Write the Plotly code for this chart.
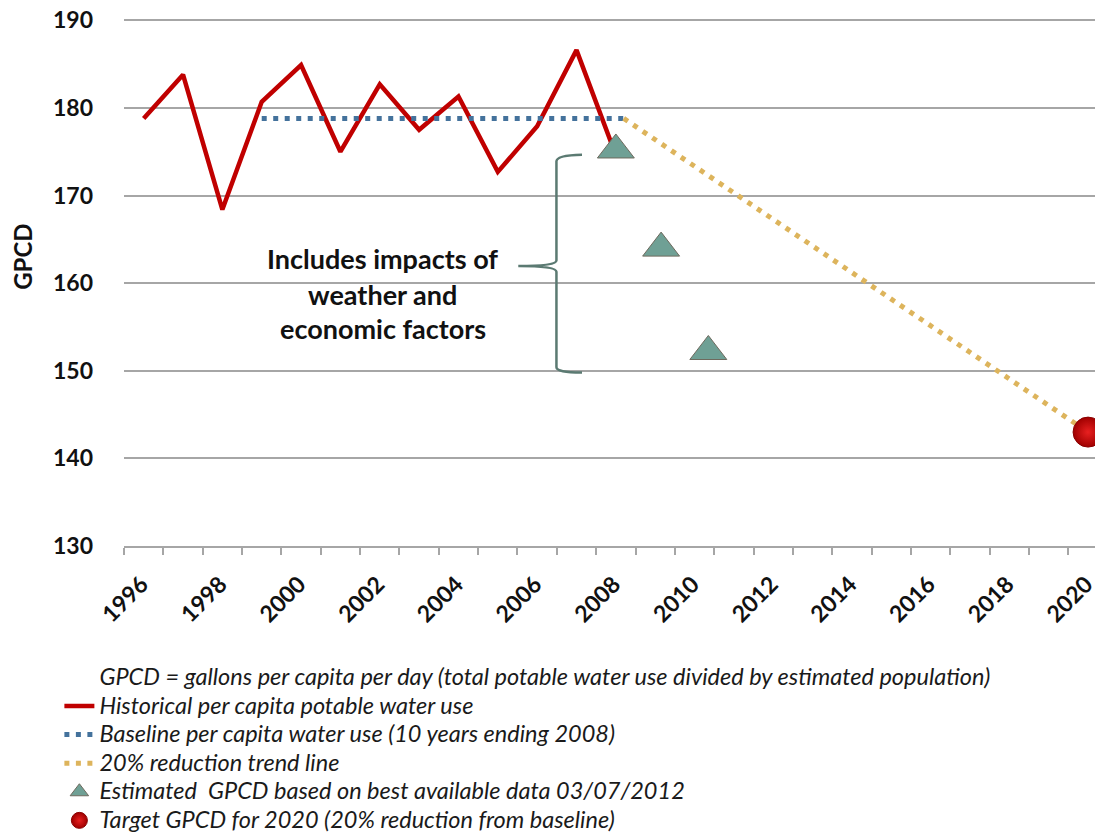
import plotly.graph_objects as go

# ---- data ----
hist_years = [1996, 1997, 1998, 1999, 2000, 2001, 2002, 2003, 2004, 2005, 2006, 2007, 2008]
hist_gpcd = [178.8, 183.8, 168.4, 180.7, 184.9, 175.0, 182.7, 177.5, 181.3, 172.7, 177.9, 186.6, 174.6]

baseline_x = [1999, 2008.2]
baseline_y = [178.8, 178.8]

trend_x = [2008.2, 2020]
trend_y = [178.8, 143.0]

est_x = [2008.0, 2009.15, 2010.35]
est_y = [175.2, 164.0, 152.2]

target_x = [2020]
target_y = [143.0]

y_ticks = [130, 140, 150, 160, 170, 180, 190]
x_first_label = 1996
x_label_step = 2

names = [
    "GPCD = gallons per capita per day (total potable water use divided by estimated population)",
    "Historical per capita potable water use",
    "Baseline per capita water use (10 years ending 2008)",
    "20% reduction trend line",
    "Estimated  GPCD based on best available data 03/07/2012",
    "Target GPCD for 2020 (20% reduction from baseline)",
]

FONT = "Lato"


def leg(t):
    return '<span style="font-size:23.5px">' + t + '</span>'


fig = go.Figure()

# note-only legend entry (no symbol)
fig.add_trace(go.Scatter(x=[None], y=[None], mode="lines", name=leg(names[0]),
                         line=dict(width=0, color="rgba(0,0,0,0)")))

fig.add_trace(go.Scatter(x=hist_years, y=hist_gpcd, mode="lines", name=leg(names[1]),
                         line=dict(color="#C00000", width=4.5)))

fig.add_trace(go.Scatter(x=baseline_x, y=baseline_y, mode="lines", name=leg(names[2]),
                         line=dict(color="#44729C", width=5, dash="5px,6.5px")))

fig.add_trace(go.Scatter(x=trend_x, y=trend_y, mode="lines", name=leg(names[3]),
                         line=dict(color="#DDB45C", width=5, dash="5px,6.5px")))

fig.add_trace(go.Scatter(x=est_x, y=est_y, mode="markers", name=leg(names[4]),
                         marker=dict(symbol="triangle-up", size=32, color="#6FA095",
                                     line=dict(color="#6E6A5E", width=1)),
                         cliponaxis=False))

fig.add_trace(go.Scatter(x=target_x, y=target_y, mode="markers", name=leg(names[5]),
                         marker=dict(symbol="circle", size=30, color="#A00000",
                                     gradient=dict(type="radial", color="#E82020"),
                                     line=dict(color="#8A0000", width=1)),
                         cliponaxis=False))

# brace annotation
brace = ("M2007.14,174.66 Q2006.49,174.6 2006.49,173.9 L2006.49,162.6 "
         "Q2006.49,161.97 2005.52,161.97 Q2006.49,161.97 2006.49,161.3 "
         "L2006.49,150.4 Q2006.49,149.8 2007.14,149.81")
fig.add_shape(type="path", path=brace, xref="x", yref="y",
              line=dict(color="#5B7A72", width=2.5))

note_lines = ["Includes impacts of", "weather and", "economic factors"]
note_y = [162.76, 158.67, 154.8]
for t, yy in zip(note_lines, note_y):
    fig.add_annotation(x=2002.07, y=yy, xref="x", yref="y", text=t, showarrow=False,
                       font=dict(family=FONT, size=27, color="#111111", weight="bold"),
                       xanchor="center", yanchor="middle")

fig.add_annotation(x=-0.104, y=0.549, xref="paper", yref="paper", text="GPCD",
                   textangle=-90, showarrow=False,
                   font=dict(family=FONT, size=24, color="#111111", weight="bold"),
                   xanchor="center", yanchor="middle")

# the page body adds an 8px offset; margins compensate for it
fig.update_layout(
    width=1103, height=834,
    margin=dict(l=116, r=8, t=11, b=296),
    paper_bgcolor="white", plot_bgcolor="white",
    font=dict(family=FONT, color="#111111"),
    showlegend=True,
    legend=dict(x=-0.066, xref="paper", y=0.2206, yref="container",
                xanchor="left", yanchor="top",
                font=dict(family=FONT, size=19.7, color="#1a1a1a", style="italic"),
                bgcolor="rgba(0,0,0,0)", tracegroupgap=0, itemwidth=30,
                traceorder="normal"),
    xaxis=dict(range=[1995.5, 2020.38], tickmode="linear", tick0=x_first_label,
               dtick=x_label_step, tickformat="d", tickangle=-45, ticks="",
               showgrid=False, zeroline=False, showline=True, automargin=False,
               linecolor="#A6A6A6", linewidth=1.5,
               tickfont=dict(family=FONT, size=23, color="#111111", weight="bold"),
               ticklabelstandoff=14, ticklabelshift=-2,
               minor=dict(ticks="outside", tick0=1995.5, dtick=1, ticklen=7,
                          tickcolor="#A6A6A6", tickwidth=1.5, showgrid=False)),
    yaxis=dict(range=[130, 190.15], tickmode="array", tickvals=y_ticks,
               showgrid=True, gridcolor="#A6A6A6", gridwidth=1.5, automargin=False,
               zeroline=False, showline=False, ticks="", ticklabeloverflow="allow",
               tickfont=dict(family=FONT, size=23, color="#111111", weight="bold"),
               ticklabelstandoff=30),
)

fig.write_html("out.html")
